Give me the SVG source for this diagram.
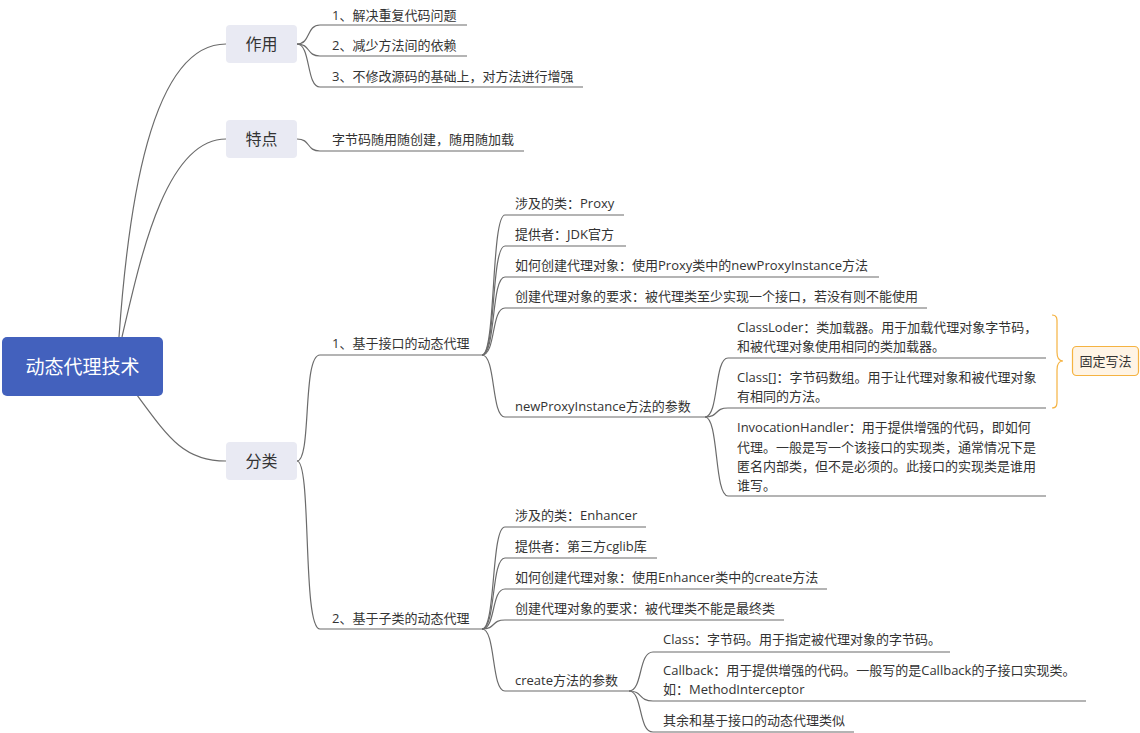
<svg xmlns="http://www.w3.org/2000/svg" width="1140" height="733" viewBox="0 0 1140 733">
<style>
text{font-family:"Open Sans","Noto Sans CJK SC","Noto Sans",sans-serif;fill:#333;dominant-baseline:central}
.t{font-size:13px}
.l1{font-size:16px;text-anchor:middle}
.root{font-size:19px;text-anchor:middle;fill:#fff}
.ul{stroke:#6b6b6b;stroke-width:1.2;fill:none}
.c path{stroke:#6b6b6b;stroke-width:1.2;fill:none}
.box{fill:#e9eaf3}
</style>
<rect width="1140" height="733" fill="#fff"/>
<g class="c" id="connectors">
<path d="M119 337 C128 210,150 44,226 44"/>
<path d="M122 337 C140 260,165 139,226 139"/>
<path d="M137 395 C170 440,185 461,226 461"/>
<path d="M297 44 C311 44,306 25,320 25"/>
<path d="M297 44 C311 44,306 56,320 56"/>
<path d="M297 44 C311 44,306 87,320 87"/>
<path d="M297 139 C311 139,306 151,320 151"/>
<path d="M297 461 C312 461,302 355,320 355"/>
<path d="M297 461 C312 461,302 629,320 629"/>
<path d="M482 355 C496 355,491 215,505 215"/>
<path d="M482 355 C496 355,491 246,505 246"/>
<path d="M482 355 C496 355,491 277,505 277"/>
<path d="M482 355 C496 355,491 308,505 308"/>
<path d="M482 355 C496 355,491 417,505 417"/>
<path d="M705 417 C719 417,714 358,728 358"/>
<path d="M705 417 C719 417,714 408,728 408"/>
<path d="M705 417 C719 417,714 496,728 496"/>
<path d="M482 629 C496 629,491 527,505 527"/>
<path d="M482 629 C496 629,491 558,505 558"/>
<path d="M482 629 C496 629,491 589,505 589"/>
<path d="M482 629 C496 629,491 620,505 620"/>
<path d="M482 629 C496 629,491 691,505 691"/>
<path d="M629 691 C643 691,638 652,653 652"/>
<path d="M629 691 C643 691,638 701,653 701"/>
<path d="M629 691 C643 691,638 732,653 732"/>
</g>
<g id="root">
<rect x="2" y="337" width="161" height="59" rx="5" fill="#4361bd"/>
<text class="root" x="82.5" y="366.5">动态代理技术</text>
</g>
<g id="zuoyong">
<rect class="box" x="226" y="25" width="71" height="38" rx="4"/>
<text class="l1" x="261.5" y="44">作用</text>
</g>
<g id="tedian">
<rect class="box" x="226" y="120" width="71" height="38" rx="4"/>
<text class="l1" x="261.5" y="139">特点</text>
</g>
<g id="fenlei">
<rect class="box" x="226" y="442" width="71" height="38" rx="4"/>
<text class="l1" x="261.5" y="461">分类</text>
</g>
<g id="zy1"><text class="t" x="332" y="15">1、解决重复代码问题</text><path class="ul" d="M320 25H467"/></g>
<g id="zy2"><text class="t" x="332" y="45">2、减少方法间的依赖</text><path class="ul" d="M320 56H467"/></g>
<g id="zy3"><text class="t" x="332" y="76">3、不修改源码的基础上，对方法进行增强</text><path class="ul" d="M320 87H583"/></g>
<g id="td1"><text class="t" x="332" y="139">字节码随用随创建，随用随加载</text><path class="ul" d="M320 151H524"/></g>
<g id="fl1"><text class="t" x="332" y="343">1、基于接口的动态代理</text><path class="ul" d="M320 355H482"/></g>
<g id="fl2"><text class="t" x="332" y="618">2、基于子类的动态代理</text><path class="ul" d="M320 629H482"/></g>
<g id="jk1"><text class="t" x="515" y="203">涉及的类：Proxy</text><path class="ul" d="M505 215H624"/></g>
<g id="jk2"><text class="t" x="515" y="234">提供者：JDK官方</text><path class="ul" d="M505 246H626"/></g>
<g id="jk3"><text class="t" x="515" y="265">如何创建代理对象：使用Proxy类中的newProxyInstance方法</text><path class="ul" d="M505 277H879"/></g>
<g id="jk4"><text class="t" x="515" y="296">创建代理对象的要求：被代理类至少实现一个接口，若没有则不能使用</text><path class="ul" d="M505 308H927"/></g>
<g id="jk5"><text class="t" x="515" y="406">newProxyInstance方法的参数</text><path class="ul" d="M505 417H705"/></g>
<g id="p1"><text class="t" x="737" y="327">ClassLoder：类加载器。用于加载代理对象字节码，</text><text class="t" x="737" y="346">和被代理对象使用相同的类加载器。</text><path class="ul" d="M728 358H1046"/></g>
<g id="p2"><text class="t" x="737" y="377">Class[]：字节码数组。用于让代理对象和被代理对象</text><text class="t" x="737" y="396">有相同的方法。</text><path class="ul" d="M728 408H1046"/></g>
<g id="p3"><text class="t" x="737" y="427">InvocationHandler：用于提供增强的代码，即如何</text><text class="t" x="737" y="447">代理。一般是写一个该接口的实现类，通常情况下是</text><text class="t" x="737" y="466">匿名内部类，但不是必须的。此接口的实现类是谁用</text><text class="t" x="737" y="485">谁写。</text><path class="ul" d="M728 496H1046"/></g>
<g id="summary">
<path d="M1052 315 C1058 315,1057 320,1057 326 L1057 352 C1057 358,1059 361,1063 361 C1059 361,1057 364,1057 370 L1057 397 C1057 403,1058 408,1052 408" fill="none" stroke="#f5b342" stroke-width="1.2"/>
<rect x="1072.5" y="346.5" width="66" height="29" rx="4" fill="#fff4e5" stroke="#f5b342" stroke-width="1.2"/>
<text class="t" x="1105.5" y="361" text-anchor="middle">固定写法</text>
</g>
<g id="zl1"><text class="t" x="515" y="515">涉及的类：Enhancer</text><path class="ul" d="M505 527H646"/></g>
<g id="zl2"><text class="t" x="515" y="546">提供者：第三方cglib库</text><path class="ul" d="M505 558H657"/></g>
<g id="zl3"><text class="t" x="515" y="577">如何创建代理对象：使用Enhancer类中的create方法</text><path class="ul" d="M505 589H827"/></g>
<g id="zl4"><text class="t" x="515" y="608">创建代理对象的要求：被代理类不能是最终类</text><path class="ul" d="M505 620H784"/></g>
<g id="zl5"><text class="t" x="515" y="680">create方法的参数</text><path class="ul" d="M505 691H629"/></g>
<g id="c1"><text class="t" x="663" y="639">Class：字节码。用于指定被代理对象的字节码。</text><path class="ul" d="M653 652H950"/></g>
<g id="c2"><text class="t" x="663" y="670">Callback：用于提供增强的代码。一般写的是Callback的子接口实现类。</text><text class="t" x="663" y="689">如：MethodInterceptor</text><path class="ul" d="M653 701H1086"/></g>
<g id="c3"><text class="t" x="663" y="720">其余和基于接口的动态代理类似</text><path class="ul" d="M653 732H854"/></g>
</svg>
